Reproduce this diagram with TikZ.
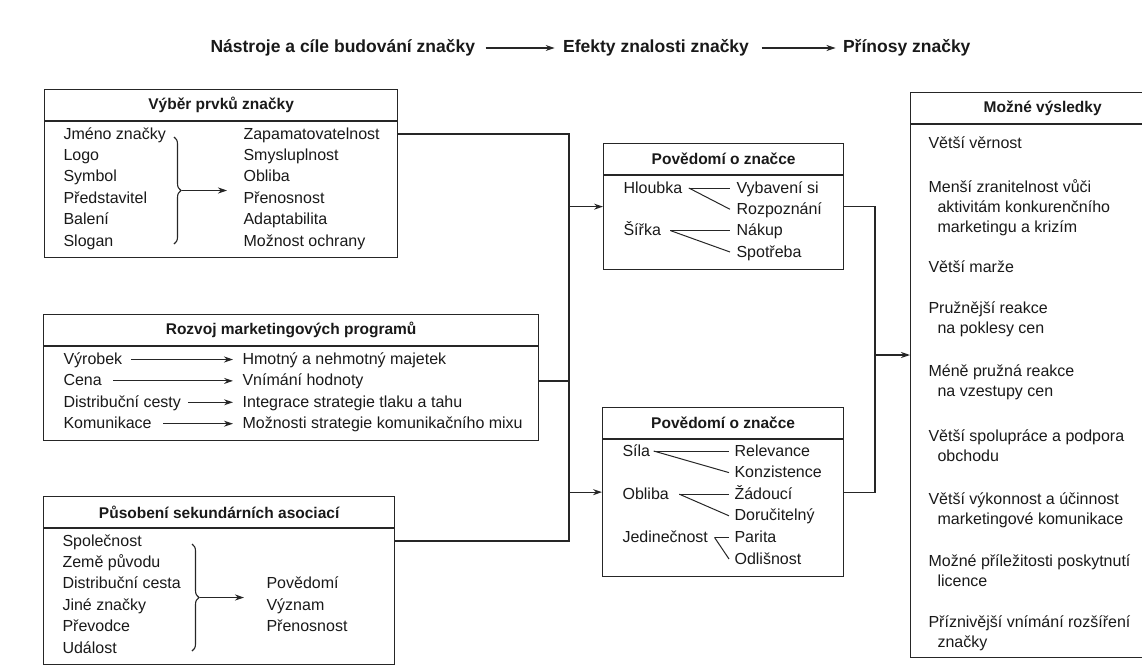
\documentclass[tikz,border=0pt]{standalone}
\usepackage{fontspec}
\setmainfont{Liberation Sans}
\usetikzlibrary{arrows.meta,decorations.pathreplacing,positioning}

\begin{document}
\begin{tikzpicture}[
        x=1pt, y=-1pt,
        color=black!85,
        line width=1.1pt,
        every node/.style={inner sep=0pt, text=black!90},
        box/.style={draw, rectangle, line width=1.3pt},
        boxtitle/.style={font=\fontsize{15.5}{18}\selectfont\bfseries, minimum height=31pt},
        item/.style={font=\fontsize{16}{20}\selectfont, anchor=west, text height=12pt, text depth=2pt},
        outcome/.style={font=\fontsize{16}{20}\selectfont, anchor=north west, align=left},
        heading/.style={font=\fontsize{17.5}{20}\selectfont\bfseries, anchor=west, text height=13pt, text depth=4pt},
        arr/.style={-{Stealth[length=9pt,width=6pt]}},
        link/.style={line width=1pt},
        conn/.style={line width=1.3pt}
    ]
    \useasboundingbox (0,0) rectangle (1142,669);
    \clip (0,0) rectangle (1142,669);

    % Header
    \node[heading] (nastroje) at (210,48) {Nástroje a cíle budování značky};
    \node[heading, right=87pt of nastroje] (efekty) {Efekty znalosti značky};
    \node[heading, right=93pt of efekty] (prinosy) {Přínosy značky};
    \draw[arr, shorten <=10pt, shorten >=8pt] (nastroje) -- (efekty);
    \draw[arr, shorten <=12pt, shorten >=7pt] (efekty) -- (prinosy);

    % Vyber prvku
    \node[box, anchor=north west, minimum width=353pt, minimum height=168pt] (vyber) at (44,89) {};
    \node[boxtitle, below=0pt of vyber.north] (vyberT) {Výběr prvků značky};
    \draw[line width=1.3pt] (vyberT.south -| vyber.west) -- (vyberT.south -| vyber.east);
    \foreach \t [count=\i] in {Jméno značky, Logo, Symbol, Představitel, Balení, Slogan}
        \node[item] (vyberL\i) at (63,112.6+\i*21.4) {\t};
    \foreach \t [count=\i] in {Zapamatovatelnost, Smysluplnost, Obliba, Přenosnost, Adaptabilita, Možnost ochrany}
        \node[item] (vyberR\i) at (243,112.6+\i*21.4) {\t};
    \coordinate (vyberB1) at (174,137);
    \coordinate (vyberB2) at (174,244);
    \draw[decorate, decoration={brace, amplitude=7pt}] (vyberB1) -- (vyberB2);
    \coordinate (vyberTip) at (182,190.5);
    \coordinate (vyberTo) at (227,190.5);
    \draw[arr] (vyberTip) -- (vyberTo);

    % Rozvoj programu
    \node[box, anchor=north west, minimum width=495pt, minimum height=126pt] (rozvoj) at (43,314) {};
    \node[boxtitle, below=0pt of rozvoj.north] (rozvojT) {Rozvoj marketingových programů};
    \draw[line width=1.3pt] (rozvojT.south -| rozvoj.west) -- (rozvojT.south -| rozvoj.east);
    \foreach \t [count=\i] in {Výrobek, Cena, Distribuční cesty, Komunikace}
        \node[item] (rozvojL\i) at (63,338.1+\i*21.4) {\t};
    \foreach \t [count=\i] in {Hmotný a nehmotný majetek, Vnímání hodnoty, Integrace strategie tlaku a tahu, Možnosti strategie komunikačního mixu}
        \node[item] (rozvojR\i) at (242,338.1+\i*21.4) {\t};
    \foreach \i/\g in {1/8pt, 2/11pt, 3/7pt, 4/11pt}
        \draw[arr, shorten <=\g, shorten >=9pt] (rozvojL\i) -- (rozvojR\i);

    % Sekundarni asociace
    \node[box, anchor=north west, minimum width=351pt, minimum height=168pt] (asoc) at (43,496) {};
    \node[boxtitle, below=0pt of asoc.north] (asocT) {Působení sekundárních asociací};
    \draw[line width=1.3pt] (asocT.south -| asoc.west) -- (asocT.south -| asoc.east);
    \foreach \t [count=\i] in {Společnost, Země původu, Distribuční cesta, Jiné značky, Převodce, Událost}
        \node[item] (asocL\i) at (62,519.6+\i*21.4) {\t};
    \foreach \t [count=\i from 3] in {Povědomí, Význam, Přenosnost}
        \node[item] (asocR\i) at (266,519.6+\i*21.4) {\t};
    \coordinate (asocB1) at (192,544);
    \coordinate (asocB2) at (192,651);
    \draw[decorate, decoration={brace, amplitude=7pt}] (asocB1) -- (asocB2);
    \coordinate (asocTip) at (200,597.5);
    \coordinate (asocTo) at (244,597.5);
    \draw[arr] (asocTip) -- (asocTo);

    % Povedomi (hloubka, sirka)
    \node[box, anchor=north west, minimum width=240pt, minimum height=126pt] (povedomiA) at (603,143) {};
    \node[boxtitle, below=0pt of povedomiA.north] (povedomiAT) {Povědomí o značce};
    \draw[line width=1.3pt] (povedomiAT.south -| povedomiA.west) -- (povedomiAT.south -| povedomiA.east);
    \node[item] (hloubka) at (623,188) {Hloubka};
    \node[item] (sirka) at (623,230.6) {Šířka};
    \node[item] (vybaveni) at (736,188) {Vybavení si};
    \node[item] (rozpoznani) at (736,209.3) {Rozpoznání};
    \node[item] (nakup) at (736,230.6) {Nákup};
    \node[item] (spotreba) at (736,252) {Spotřeba};
    \draw[link] ([xshift=6pt]hloubka.east) -- ([xshift=-6pt]vybaveni.west);
    \draw[link] ([xshift=6pt]hloubka.east) -- ([xshift=-6pt]rozpoznani.west);
    \draw[link] ([xshift=9pt]sirka.east) -- ([xshift=-6pt]nakup.west);
    \draw[link] ([xshift=9pt]sirka.east) -- ([xshift=-6pt]spotreba.west);

    % Povedomi (sila, obliba, jedinecnost)
    \node[box, anchor=north west, minimum width=241pt, minimum height=169pt] (povedomiB) at (602,407) {};
    \node[boxtitle, below=0pt of povedomiB.north] (povedomiBT) {Povědomí o značce};
    \draw[line width=1.3pt] (povedomiBT.south -| povedomiB.west) -- (povedomiBT.south -| povedomiB.east);
    \node[item] (sila) at (622,451) {Síla};
    \node[item] (obliba) at (622,494.2) {Obliba};
    \node[item] (jedinecnost) at (622,537.4) {Jedinečnost};
    \node[item] (relevance) at (734,451) {Relevance};
    \node[item] (konzistence) at (734,472.6) {Konzistence};
    \node[item] (zadouci) at (734,494.2) {Žádoucí};
    \node[item] (dorucitelny) at (734,515.8) {Doručitelný};
    \node[item] (parita) at (734,537.4) {Parita};
    \node[item] (odlisnost) at (734,559) {Odlišnost};
    \draw[link] ([xshift=3pt]sila.east) -- ([xshift=-5pt]relevance.west);
    \draw[link] ([xshift=3pt]sila.east) -- ([xshift=-5pt]konzistence.west);
    \draw[link] ([xshift=10pt]obliba.east) -- ([xshift=-5pt]zadouci.west);
    \draw[link] ([xshift=10pt]obliba.east) -- ([xshift=-5pt]dorucitelny.west);
    \draw[link] ([xshift=6pt]jedinecnost.east) -- ([xshift=-5pt]parita.west);
    \draw[link] ([xshift=6pt]jedinecnost.east) -- ([xshift=-5pt]odlisnost.west);

    % Mozne vysledky
    \node[box, anchor=north west, minimum width=264pt, minimum height=565pt] (vysledky) at (910,92) {};
    \node[boxtitle, below=0pt of vysledky.north] (vysledkyT) {Možné výsledky};
    \draw[line width=1.3pt] (vysledkyT.south -| vysledky.west) -- (vysledkyT.south -| vysledky.east);
    \node[outcome] (vernost) at (928,136) {Větší věrnost};
    \node[outcome] (zranitelnost) at (928,179) {Menší zranitelnost vůči\\\hspace*{9pt}aktivitám konkurenčního\\\hspace*{9pt}marketingu a krizím};
    \node[outcome] (marze) at (928,260) {Větší marže};
    \node[outcome] (pokles) at (928,301) {Pružnější reakce\\\hspace*{9pt}na poklesy cen};
    \node[outcome] (vzestup) at (928,364) {Méně pružná reakce\\\hspace*{9pt}na vzestupy cen};
    \node[outcome] (spoluprace) at (928,429) {Větší spolupráce a podpora\\\hspace*{9pt}obchodu};
    \node[outcome] (vykonnost) at (928,492) {Větší výkonnost a účinnost\\\hspace*{9pt}marketingové komunikace};
    \node[outcome] (licence) at (928,554) {Možné příležitosti poskytnutí\\\hspace*{9pt}licence};
    \node[outcome] (rozsireni) at (928,615) {Příznivější vnímání rozšíření\\\hspace*{9pt}značky};

    % Connectors
    \coordinate (busL) at (569,0);
    \coordinate (busR) at (875,0);
    \draw[conn] (vyber.east |- vyberR1) -- (busL |- vyberR1) -- (busL |- asocL1) -- (asoc.east |- asocL1);
    \draw[conn] (rozvoj.east |- rozvojL2) -- (busL |- rozvojL2);
    \draw[arr, conn] (busL |- povedomiA.west) -- (povedomiA.west);
    \draw[arr, conn] (busL |- povedomiB.west) -- (povedomiB.west);
    \draw[conn] (povedomiA.east) -- (busR |- povedomiA.east) -- (busR |- povedomiB.east) -- (povedomiB.east);
    \coordinate (vstup) at (875,355);
    \draw[arr, conn] (vstup) -- (vstup -| vysledky.west);
\end{tikzpicture}
\end{document}
